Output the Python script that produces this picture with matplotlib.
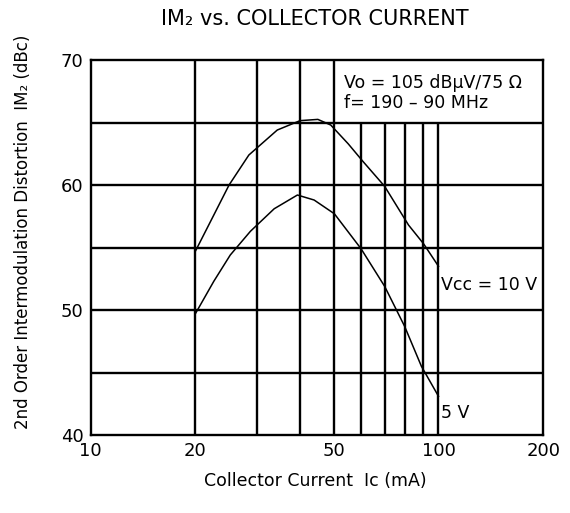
import matplotlib
matplotlib.use("Agg")
import matplotlib.pyplot as plt

plt.rcParams['font.family'] = ['DejaVu Sans']

# Data
cur_10v = [20, 22.6, 25, 28.5, 34.4, 40, 45, 49, 55, 60.6, 70, 82, 90.6, 100]
im2_10v = [54.7, 57.6, 60.0, 62.4, 64.4, 65.15, 65.25, 64.8, 63.3, 61.9, 59.9, 56.8, 55.3, 53.5]
cur_5v = [20, 22.6, 25.2, 28.8, 33.7, 39.3, 43.9, 50.2, 59.9, 70, 79.9, 89.3, 100]
im2_5v = [49.7, 52.3, 54.4, 56.3, 58.1, 59.2, 58.8, 57.7, 54.9, 51.9, 48.7, 45.5, 43.1]

x_ticks = [10, 20, 50, 100, 200]
y_ticks = [40, 50, 60, 70]
v_grid_full = [20, 30, 40, 50]
v_grid_short = [60, 70, 80, 90, 100]
h_grid = [45, 50, 55, 60, 65]

fig = plt.figure(figsize=(5.70, 5.13), dpi=100)
ax = fig.add_axes([0.159, 0.152, 0.794, 0.731])
ax.set_xscale('log')
ax.set_xlim(10, 200)
ax.set_ylim(40, 70)

lw = 1.7
for y in h_grid:
    ax.axhline(y, color='black', lw=lw, zorder=1)
for x in v_grid_full:
    ax.axvline(x, color='black', lw=lw, zorder=1)
for x in v_grid_short:
    ax.plot([x, x], [40, 65], color='black', lw=lw, zorder=1, solid_capstyle='butt')

ax.plot(cur_10v, im2_10v, color='black', lw=1.1, zorder=2)
ax.plot(cur_5v, im2_5v, color='black', lw=1.1, zorder=2)

for s in ax.spines.values():
    s.set_linewidth(lw)

ax.set_xticks(x_ticks)
ax.set_xticklabels([str(t) for t in x_ticks])
ax.xaxis.set_minor_locator(matplotlib.ticker.NullLocator())
ax.set_yticks(y_ticks)
ax.tick_params(length=0, labelsize=13, pad=5)

ax.text(102, 52.0, 'Vcc = 10 V', fontsize=12.5, va='center', ha='left')
ax.text(102, 41.8, '5 V', fontsize=12.5, va='center', ha='left')
ax.text(53.5, 68.2, 'Vo = 105 dBμV/75 Ω', fontsize=12.5, va='center', ha='left')
ax.text(53.5, 66.6, 'f= 190 – 90 MHz', fontsize=12.5, va='center', ha='left')

fig.text(0.553, 0.963, 'IM₂ vs. COLLECTOR CURRENT', fontsize=15, ha='center', va='center')
fig.text(0.553, 0.063, 'Collector Current  Ic (mA)', fontsize=12.5, ha='center', va='center')
fig.text(0.040, 0.548, '2nd Order Intermodulation Distortion  IM₂ (dBc)', fontsize=12,
         ha='center', va='center', rotation=90)

fig.savefig('out.png', dpi=100)
